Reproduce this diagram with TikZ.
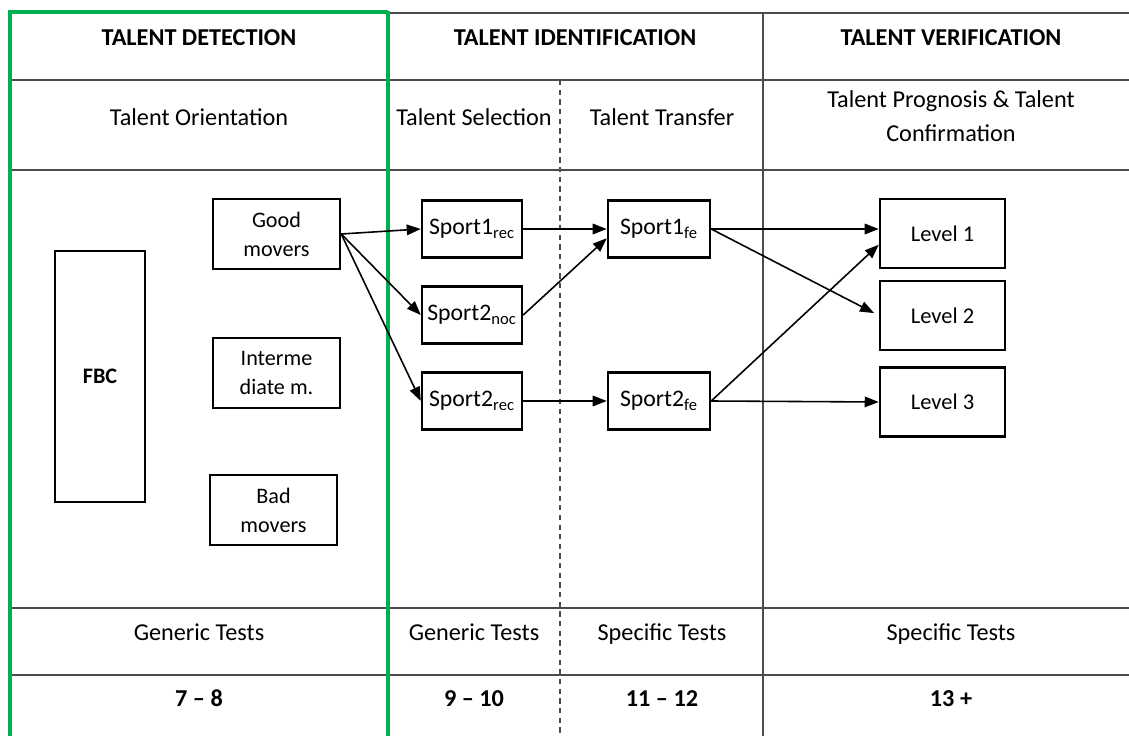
\documentclass[tikz,border=0pt]{standalone}
\usepackage{fontspec}
\setmainfont{Carlito}
\usetikzlibrary{arrows.meta}
\definecolor{framegreen}{RGB}{0,176,80}

\begin{document}
\begin{tikzpicture}[x=0.02cm,y=-0.02cm,
  cell/.style={font=\fontsize{13.8}{19.3}\selectfont,align=center,text height=1.6ex,text depth=0.5ex},
  head/.style={font=\fontsize{13.8}{16}\selectfont\bfseries,text height=1.6ex,text depth=0.5ex},
  box/.style={draw,line width=1.4pt,font=\fontsize{12.6}{16.5}\selectfont,align=center,inner sep=2pt},
  sport/.style={box,minimum width=2cm,minimum height=1.14cm,font=\fontsize{13.5}{16}\selectfont},
  level/.style={box,minimum width=2.5cm,minimum height=1.38cm,font=\fontsize{12.8}{16}\selectfont},
  flow/.style={line width=0.9pt,-{Triangle[length=8pt,width=6pt]}},
  rule/.style={line width=1.1pt,black!70}]
      \useasboundingbox (0,0) rectangle (1129,736);
      % table
      \draw[rule] (388,13) -- (1129,13);
      \foreach \y in {80,170,608,675} \draw[rule] (10,\y) -- (1129,\y);
      \draw[rule] (763,13) -- (763,736);
      \draw[rule,line width=0.9pt,dash pattern=on 3pt off 2.5pt] (560,80) -- (560,736);
      \draw[framegreen,line width=1.8pt] (10,736) -- (10,12) -- (388,12);
      \draw[framegreen,line width=2.8pt] (388,11) -- (388,736);
      % header texts
      \node[head] (hdet) at (199,41) {TALENT DETECTION};
      \node[head] (hide) at (575,41) {TALENT IDENTIFICATION};
      \node[head] (hver) at (951,41) {TALENT VERIFICATION};
      \node[cell] (orient) at (199,121) {Talent Orientation};
      \node[cell] (select) at (474,121) {Talent Selection};
      \node[cell] (transf) at (662,121) {Talent Transfer};
      \node[font=\fontsize{13.8}{19.3}\selectfont,align=center] (progn) at (951,116) {Talent Prognosis \& Talent\\Confirmation};
      \node[cell] (gen1) at (199,636) {Generic Tests};
      \node[cell] (gen2) at (474,636) {Generic Tests};
      \node[cell] (spec1) at (662,636) {Specific Tests};
      \node[cell] (spec2) at (951,636) {Specific Tests};
      \node[head] (age1) at (199,702) {7 -- 8};
      \node[head] (age2) at (474,702) {9 -- 10};
      \node[head] (age3) at (662,702) {11 -- 12};
      \node[head] (age4) at (951,702) {13 +};
      % boxes
      \node[box,minimum width=1.8cm,minimum height=5.02cm,font=\fontsize{12.6}{14}\selectfont\bfseries] (fbc) at (100,376.5) {FBC};
      \node[box,minimum width=2.54cm,minimum height=1.4cm] (good) at (276.5,234) {Good\\movers};
      \node[box,minimum width=2.54cm,minimum height=1.4cm] (inter) at (276.5,373) {Interme\\diate m.};
      \node[box,minimum width=2.54cm,minimum height=1.4cm] (bad) at (273.5,510) {Bad\\movers};
      \node[sport] (s1rec) at (472,229) {Sport1\textsubscript{rec}};
      \node[sport] (s2noc) at (472,315) {Sport2\textsubscript{noc}};
      \node[sport] (s2rec) at (472,401) {Sport2\textsubscript{rec}};
      \node[sport,minimum width=2.04cm] (s1fe) at (659,229) {Sport1\textsubscript{fe}};
      \node[sport,minimum width=2.04cm] (s2fe) at (659,401) {Sport2\textsubscript{fe}};
      \node[level] (lev1) at (942.5,233.5) {Level 1};
      \node[level] (lev2) at (942.5,315.5) {Level 2};
      \node[level] (lev3) at (942.5,402) {Level 3};
      % arrows
      \draw[flow] (good.east) -- (s1rec.west);
      \draw[flow] (good.east) -- (s2noc.west);
      \draw[flow] (good.east) -- (s2rec.west);
      \draw[flow] (s1rec.east) -- (s1fe.west);
      \draw[flow] (s2noc.east) -- (s1fe.190);
      \draw[flow] (s2rec.east) -- (s2fe.west);
      \draw[flow] (s1fe.east) -- (s1fe.east -| lev1.west);
      \draw[flow,shorten >=3pt] (s1fe.east) -- (lev2.west);
      \draw[flow] (s2fe.east) -- (lev1.190);
      \draw[flow] (s2fe.east) -- (lev3.west);
    \end{tikzpicture}
\end{document}
